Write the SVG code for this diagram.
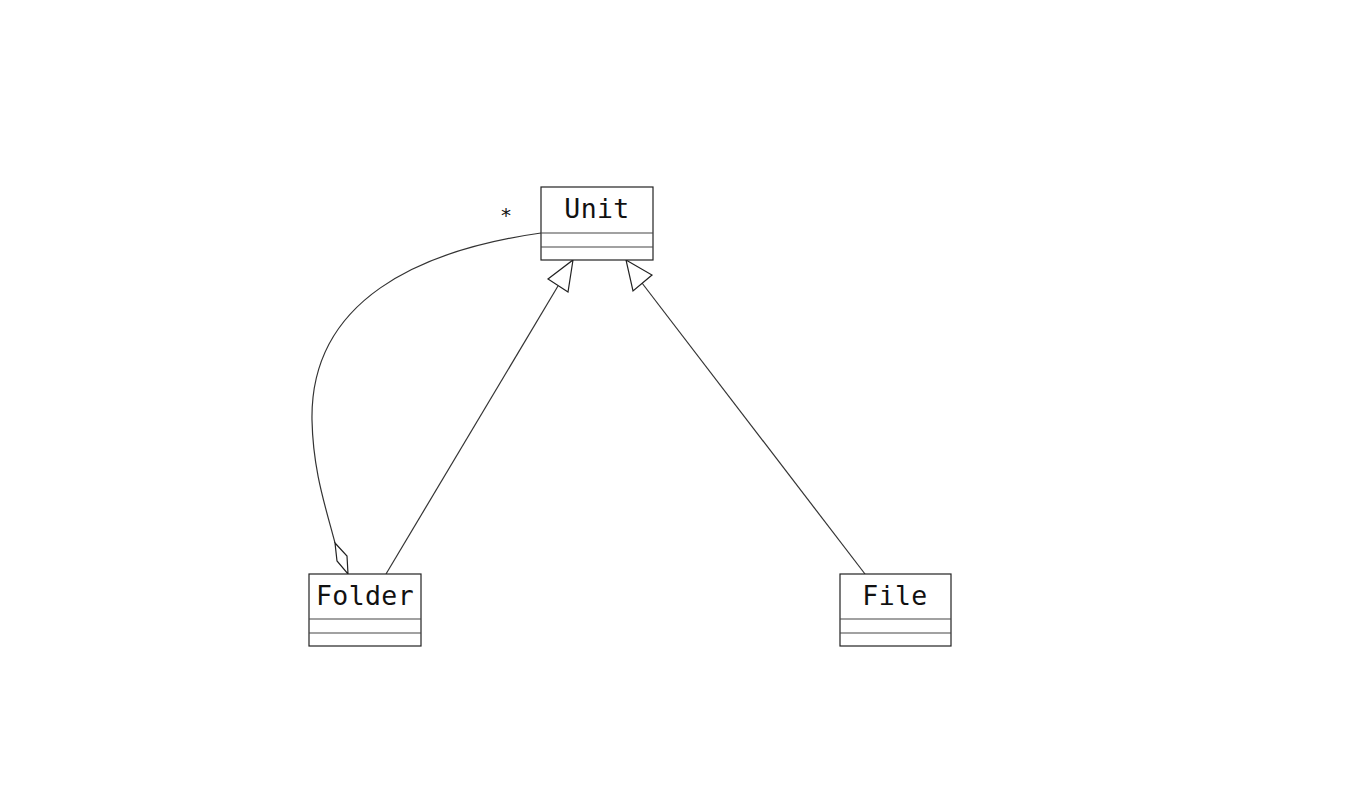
<svg xmlns="http://www.w3.org/2000/svg" width="1366" height="810" viewBox="0 0 1366 810">
<style>
.box{fill:#fff;stroke:#222;stroke-width:1.2}
.sep{stroke:#444;stroke-width:1.2}
.lbl{font-family:"DejaVu Sans Mono",monospace;font-size:26.5px;fill:#111;text-anchor:middle;letter-spacing:0.4px}
.ln{fill:none;stroke:#333;stroke-width:1.2}
.head{fill:#fff;stroke:#222;stroke-width:1.2}
</style>
<rect width="1366" height="810" fill="#fff"/>
<g id="connectors">
<path class="ln" d="M541,233 C420,250 310,300 312,420 C313,470 325,505 335,543"/>
<polygon class="head" points="335,543 347,556 348,574 337,561"/>
<line class="ln" x1="386" y1="574" x2="558" y2="286"/>
<polygon class="head" points="573,260 568,292 548,279"/>
<line class="ln" x1="865" y1="574" x2="642" y2="283"/>
<polygon class="head" points="626,260 652,275 633,291"/>
<text x="506" y="222" font-family="DejaVu Sans Mono, monospace" font-size="20" text-anchor="middle" fill="#111">*</text>
</g>
<g id="Unit">
<rect class="box" x="541" y="187" width="112" height="73"/>
<line class="sep" x1="541" y1="233" x2="653" y2="233"/>
<line class="sep" x1="541" y1="247" x2="653" y2="247"/>
<text class="lbl" x="597" y="218">Unit</text>
</g>
<g id="Folder">
<rect class="box" x="309" y="574" width="112" height="72"/>
<line class="sep" x1="309" y1="619" x2="421" y2="619"/>
<line class="sep" x1="309" y1="633" x2="421" y2="633"/>
<text class="lbl" x="365" y="605">Folder</text>
</g>
<g id="File">
<rect class="box" x="840" y="574" width="111" height="72"/>
<line class="sep" x1="840" y1="619" x2="951" y2="619"/>
<line class="sep" x1="840" y1="633" x2="951" y2="633"/>
<text class="lbl" x="895" y="605">File</text>
</g>
</svg>
